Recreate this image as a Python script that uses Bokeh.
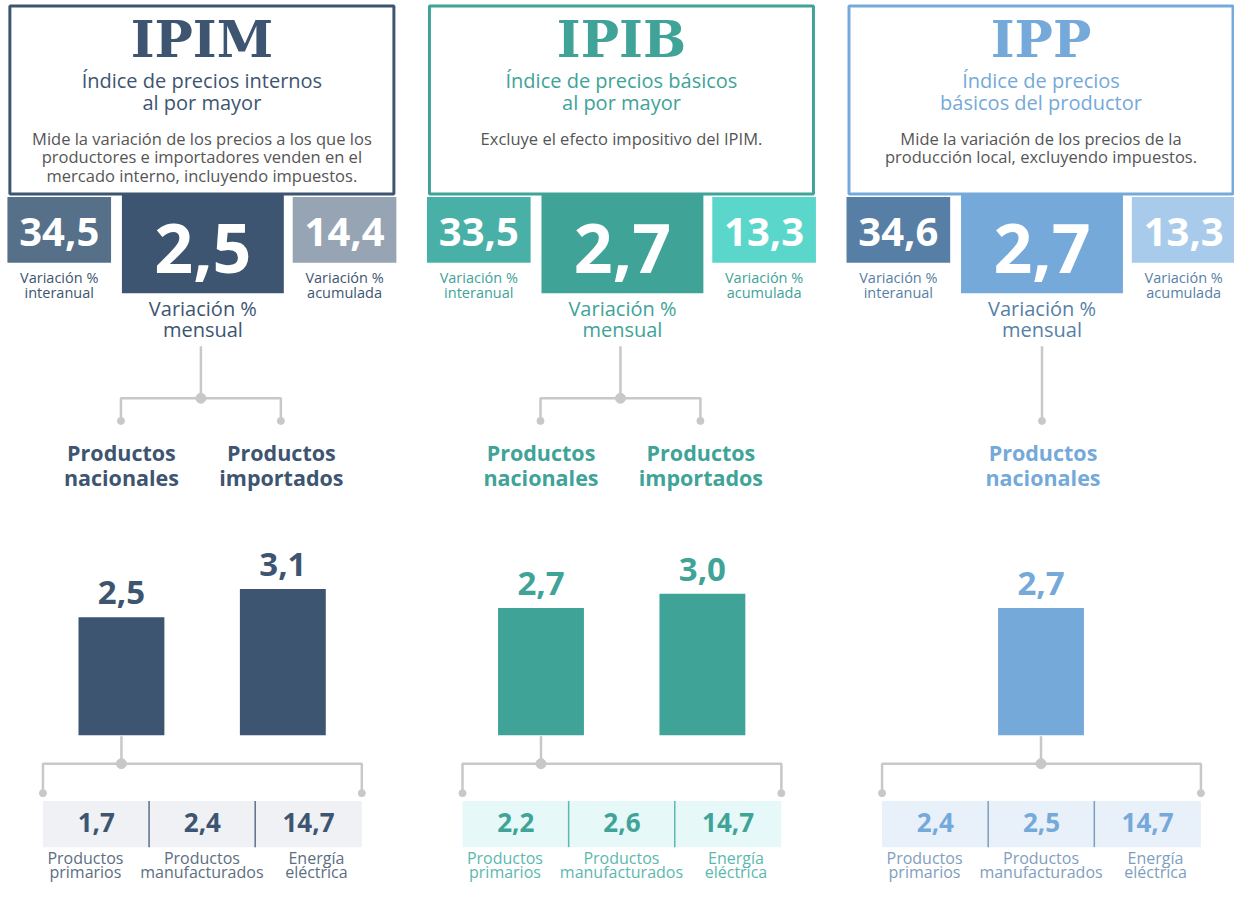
from bokeh.plotting import figure
from bokeh.models import Range1d
from bokeh.core.properties import value
from bokeh.embed import file_html
from bokeh.resources import INLINE

# ---------------- data ----------------
indices = ["IPIM", "IPIB", "IPP"]
subtitle_l1 = ["Índice de precios internos", "Índice de precios básicos", "Índice de precios"]
subtitle_l2 = ["al por mayor", "al por mayor", "básicos del productor"]
descriptions = [
    ["Mide la variación de los precios a los que los",
     "productores e importadores venden en el",
     "mercado interno, incluyendo impuestos."],
    ["Excluye el efecto impositivo del IPIM."],
    ["Mide la variación de los precios de la",
     "producción local, excluyendo impuestos."],
]
var_interanual = [34.5, 33.5, 34.6]
var_mensual = [2.5, 2.7, 2.7]
var_acumulada = [14.4, 13.3, 13.3]
prod_nacionales = [2.5, 2.7, 2.7]
prod_importados = [3.1, 3.0, None]
primarios = [1.7, 2.2, 2.4]
manufacturados = [2.4, 2.6, 2.5]
energia = [14.7, 14.7, 14.7]

branch_labels = [["Productos", "nacionales"], ["Productos", "importados"]]
bottom_labels = [["Productos", "primarios"], ["Productos", "manufacturados"], ["Energía", "eléctrica"]]


def fmt(v):
    return f"{v:.1f}".replace(".", ",")


# ---------------- style ----------------
FONT = "Open Sans"
TITLE_FONT = "DejaVu Serif"
main_col = ["#3D5570", "#40A398", "#75A9DA"]
left_col = ["#56708A", "#48B0A6", "#577FA6"]
right_col = ["#96A4B3", "#5AD6CB", "#A9CBEB"]
label_col = ["#3D5570", "#40A398", "#75A9DA"]
small_label_col = ["#3D5570", "#40A398", "#577FA6"]
light_fill = ["#EFF1F4", "#E6F9F8", "#E8F0F9"]
divider_col = ["#5C7088", "#5EB8AE", "#7F9DBE"]
bottom_text_col = ["#5C6E82", "#5BB8AE", "#7F9EBE"]
GREY = "#C8C8C8"
DESC = "#555555"
offsets = [0, 425, 850]

BASE = 748      # bar baseline (reference pixel coords)
PX_PER_UNIT = 48
MID = 0.36      # cap-centre above the baseline, in em

p = figure(width=1234, height=883, x_range=Range1d(0, 1250), y_range=Range1d(899, 0),
           output_backend="svg", toolbar_location=None, min_border=0, title=None)
p.axis.visible = False
p.grid.visible = False
p.outline_line_color = None
p.background_fill_color = "white"
p.border_fill_color = "white"
p.extra_y_ranges = {"bar": Range1d(start=(BASE - 899) / PX_PER_UNIT, end=BASE / PX_PER_UNIT)}


def txt(x, y, s, size, color, bold=False, font=FONT):
    # y is the alphabetic baseline; place by the visual middle
    p.text(x=[x], y=[y - MID * size], text=[s], text_font=value(font), text_font_size=f"{size}px",
           text_color=color, text_font_style="bold" if bold else "normal",
           text_align="center", text_baseline="middle")


for i in range(3):
    dx = offsets[i]
    cx = 204 + dx
    # header box
    p.quad(left=9.5 + dx, right=398.5 + dx, top=5.5, bottom=197, fill_color="white",
           line_color=main_col[i], line_width=3)
    txt(cx, 58, indices[i], 51, main_col[i], bold=True, font=TITLE_FONT)
    txt(cx, 89, subtitle_l1[i], 20, label_col[i])
    txt(cx, 111, subtitle_l2[i], 20, label_col[i])
    for k, line in enumerate(descriptions[i]):
        txt(cx, 146 + 19 * k, line, 16.5, DESC)

    # KPI boxes
    p.quad(left=7 + dx, right=112 + dx, top=200, bottom=267, fill_color=left_col[i], line_color=None)
    p.quad(left=123 + dx, right=287 + dx, top=197, bottom=298, fill_color=main_col[i], line_color=None)
    p.quad(left=296 + dx, right=401 + dx, top=200, bottom=267, fill_color=right_col[i], line_color=None)
    txt(59.5 + dx, 250, fmt(var_interanual[i]), 40, "white", bold=True)
    txt(205 + dx, 277, fmt(var_mensual[i]), 68, "white", bold=True)
    txt(348.5 + dx, 250, fmt(var_acumulada[i]), 40, "white", bold=True)
    txt(59.5 + dx, 287, "Variación %", 14.5, small_label_col[i])
    txt(59.5 + dx, 303, "interanual", 14.5, small_label_col[i])
    txt(348.5 + dx, 287, "Variación %", 14.5, small_label_col[i])
    txt(348.5 + dx, 303, "acumulada", 14.5, small_label_col[i])
    txt(205 + dx, 321, "Variación %", 20, small_label_col[i])
    txt(205 + dx, 342, "mensual", 20, small_label_col[i])

    # upper tree + bars
    has_imp = prod_importados[i] is not None
    if has_imp:
        bar_x = [122.5 + dx, 286 + dx]
        bar_v = [prod_nacionales[i], prod_importados[i]]
        p.line(x=[203 + dx, 203 + dx], y=[352, 405], line_color=GREY, line_width=2.5)
        p.line(x=[122 + dx, 122 + dx, 284 + dx, 284 + dx], y=[428, 405, 405, 428],
               line_color=GREY, line_width=2.5)
        p.scatter(x=[203 + dx], y=[405], size=10, color=GREY)
        p.scatter(x=[122 + dx, 284 + dx], y=[428, 428], size=7, color=GREY)
        label_x = [122.5 + dx, 284.5 + dx]
    else:
        bar_x = [204 + dx]
        bar_v = [prod_nacionales[i]]
        p.line(x=[205 + dx, 205 + dx], y=[352, 428], line_color=GREY, line_width=2.5)
        p.scatter(x=[205 + dx], y=[428], size=7, color=GREY)
        label_x = [206 + dx]
    for j, lx in enumerate(label_x):
        txt(lx, 468, branch_labels[j][0], 21.5, label_col[i], bold=True)
        txt(lx, 493, branch_labels[j][1], 21.5, label_col[i], bold=True)

    p.vbar(x=bar_x, top=bar_v, bottom=0, width=87, y_range_name="bar",
           fill_color=main_col[i], line_color=None)
    p.text(x=bar_x, y=[v + (13 + MID * 33) / PX_PER_UNIT for v in bar_v],
           text=[fmt(v) for v in bar_v],
           y_range_name="bar", text_font=value(FONT), text_font_size="33px",
           text_font_style="bold", text_color=main_col[i], text_align="center",
           text_baseline="middle")

    # lower tree
    bx = bar_x[0]
    p.line(x=[bx, bx], y=[749, 777], line_color=GREY, line_width=2.5)
    p.line(x=[43 + dx, 43 + dx, 366 + dx, 366 + dx], y=[807, 777, 777, 807],
           line_color=GREY, line_width=2.5)
    p.scatter(x=[bx], y=[777], size=10, color=GREY)
    p.scatter(x=[43 + dx, 366 + dx], y=[807, 807], size=7, color=GREY)

    # bottom breakdown
    p.quad(left=43 + dx, right=366 + dx, top=815, bottom=862, fill_color=light_fill[i], line_color=None)
    for xd in (150.5, 258):
        p.line(x=[xd + dx, xd + dx], y=[815, 862], line_color=divider_col[i], line_width=1.5)
    vals = [primarios[i], manufacturados[i], energia[i]]
    for xv, v in zip((97, 204.5, 312), vals):
        txt(xv + dx, 846, fmt(v), 26, main_col[i], bold=True)
    for xl, lab in zip((86, 204, 320), bottom_labels):
        txt(xl + dx, 879, lab[0], 16, bottom_text_col[i])
        txt(xl + dx, 893, lab[1], 16, bottom_text_col[i])

open("out.html", "w").write(file_html(p, INLINE))
